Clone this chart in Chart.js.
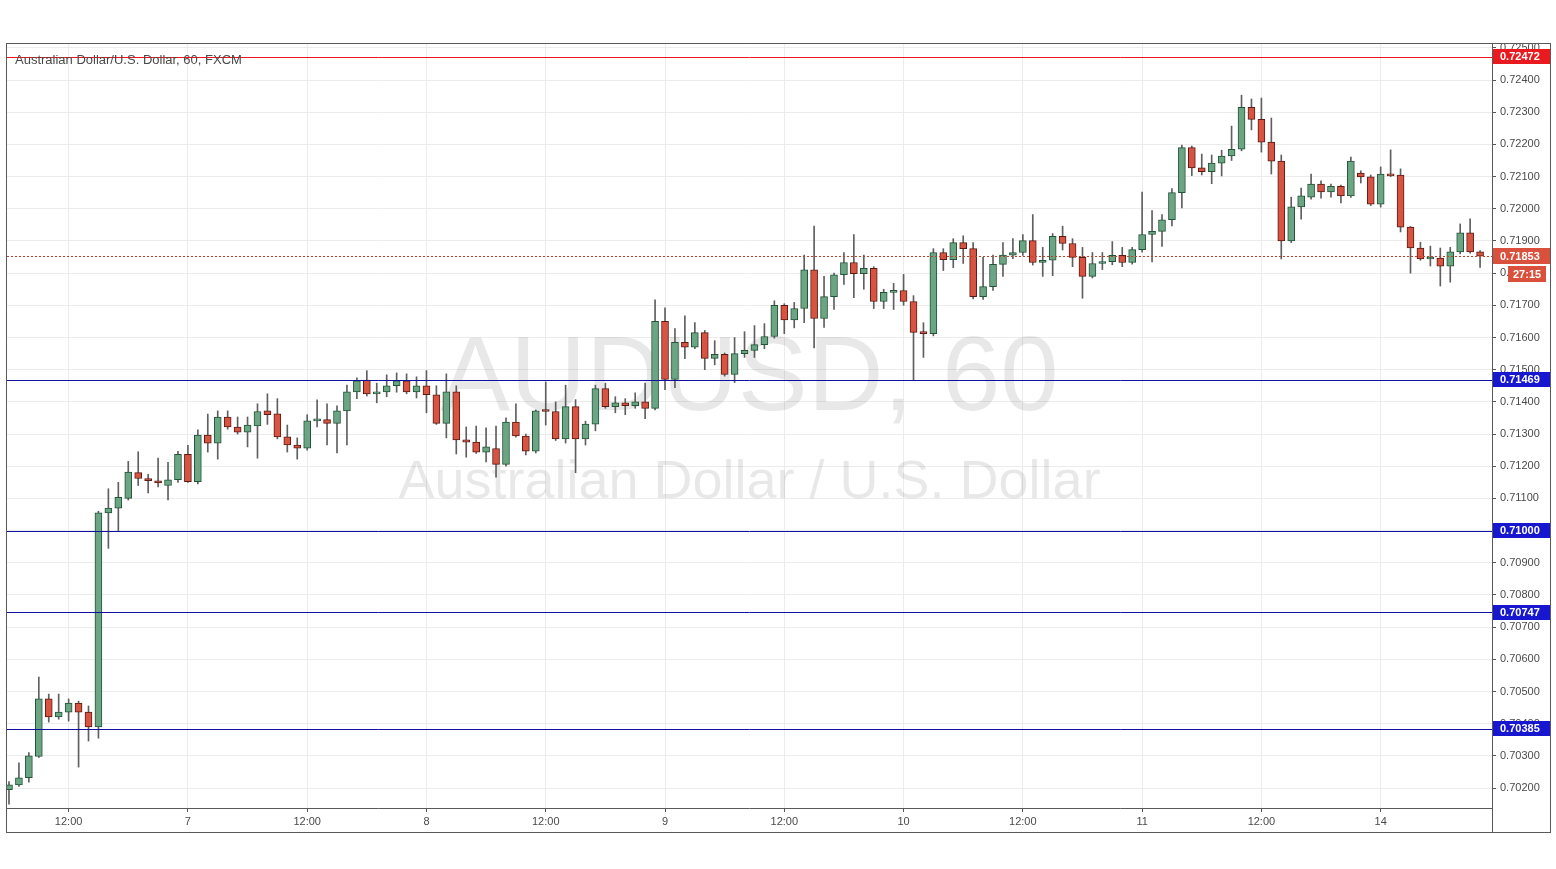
<!DOCTYPE html>
<html>
<head>
<meta charset="utf-8">
<script src="https://cdn.jsdelivr.net/npm/chart.js@4.4.0/dist/chart.umd.min.js"></script>
<style>
  html, body { margin: 0; padding: 0; background: #fff; }
  canvas { display: block; }
</style>
</head>
<body>
<canvas id="chart" width="1556" height="869"></canvas>
<script>
/* AUDUSD 60 — candles */

// trading sessions: [day, firstHour, lastHour]
const sessions = [[6, 6, 23], [7, 0, 23], [8, 0, 23], [9, 0, 23], [10, 0, 23], [11, 0, 20], [13, 21, 23], [14, 0, 10]];

const opens = [
  .70195, .70210, .70232, .70298, .70477, .70421, .70436, .70464, .70436, .70390, .71055, .71070,
  .71100, .71180, .71162, .71155, .71140, .71158, .71237, .71152, .71297, .71272, .71353, .71322,
  .71306, .71325, .71372, .71363, .71291, .71266, .71256, .71341, .71345, .71333, .71372, .71431,
  .71468, .71425, .71431, .71450, .71465, .71431, .71450, .71422, .71333, .71431, .71282, .71275,
  .71244, .71255, .71206, .71337, .71294, .71247, .71375, .71370, .71285, .71385, .71285, .71331,
  .71441, .71385, .71397, .71388, .71400, .71380, .71650, .71470, .71585, .71570, .71615, .71535,
  .71548, .71485, .71550, .71560, .71578, .71603, .71700, .71655, .71690, .71810, .71659, .71727,
  .71795, .71833, .71798, .71815, .71712, .71740, .71746, .71712, .71616, .71612, .71864, .71842,
  .71895, .71876, .71727, .71758, .71827, .71856, .71864, .71901, .71833, .71840, .71914, .71892,
  .71849, .71790, .71830, .71836, .71855, .71833, .71873, .71920, .71930, .71966, .72050, .72190,
  .72127, .72115, .72142, .72164, .72185, .72315, .72278, .72207, .72148, .71900, .72006, .72036,
  .72077, .72052, .72070, .72040, .72111, .72099, .72014, .72108, .72105, .71943, .71878, .71844,
  .71847, .71822, .71866, .71925, .71866
];
const highs = [
  .70220, .70278, .70310, .70545, .70492, .70492, .70477, .70470, .70455, .71060, .71130, .71150,
  .71215, .71245, .71175, .71225, .71212, .71246, .71265, .71313, .71362, .71372, .71372, .71353,
  .71353, .71394, .71425, .71410, .71328, .71288, .71360, .71406, .71394, .71388, .71452, .71475,
  .71497, .71458, .71484, .71490, .71487, .71478, .71497, .71450, .71487, .71450, .71322, .71325,
  .71319, .71325, .71350, .71394, .71300, .71375, .71462, .71400, .71452, .71407, .71340, .71452,
  .71458, .71416, .71410, .71428, .71458, .71717, .71692, .71628, .71667, .71646, .71622, .71590,
  .71552, .71600, .71618, .71637, .71643, .71714, .71705, .71709, .71856, .71946, .71790, .71800,
  .71864, .71920, .71856, .71820, .71750, .71768, .71796, .71730, .71646, .71876, .71876, .71907,
  .71916, .71895, .71849, .71856, .71895, .71907, .71920, .71982, .71880, .71923, .71946, .71907,
  .71880, .71864, .71864, .71898, .71880, .71880, .72052, .71994, .71982, .72063, .72198, .72195,
  .72170, .72167, .72182, .72257, .72353, .72341, .72344, .72282, .72167, .72036, .72064, .72108,
  .72087, .72077, .72074, .72161, .72118, .72105, .72130, .72183, .72124, .71945, .71896, .71884,
  .71878, .71880, .71953, .71969, .71870
];
const lows = [
  .70150, .70205, .70218, .70295, .70405, .70414, .70408, .70265, .70346, .70355, .70945, .71000,
  .71095, .71140, .71117, .71136, .71095, .71150, .71150, .71145, .71244, .71222, .71315, .71300,
  .71260, .71225, .71330, .71285, .71244, .71222, .71250, .71322, .71266, .71241, .71266, .71410,
  .71418, .71397, .71416, .71430, .71425, .71412, .71366, .71330, .71288, .71238, .71228, .71240,
  .71213, .71166, .71200, .71290, .71235, .71241, .71328, .71280, .71272, .71180, .71266, .71310,
  .71380, .71366, .71360, .71380, .71348, .71375, .71438, .71444, .71534, .71565, .71500, .71515,
  .71480, .71460, .71538, .71538, .71565, .71598, .71612, .71630, .71646, .71568, .71631, .71687,
  .71765, .71724, .71750, .71690, .71690, .71687, .71700, .71466, .71538, .71605, .71808, .71817,
  .71830, .71720, .71718, .71746, .71790, .71845, .71855, .71825, .71790, .71792, .71872, .71820,
  .71722, .71785, .71811, .71826, .71820, .71828, .71865, .71835, .71883, .71947, .72003, .72103,
  .72105, .72078, .72102, .72150, .72180, .72245, .72176, .72108, .71844, .71895, .71968, .72030,
  .72033, .72036, .72018, .72035, .72080, .72010, .72005, .72100, .71928, .71800, .71840, .71822,
  .71760, .71772, .71860, .71862, .71818
];
const closes = [
  .70210, .70232, .70300, .70477, .70421, .70436, .70464, .70436, .70390, .71055, .71070, .71103,
  .71182, .71162, .71155, .71148, .71158, .71237, .71152, .71297, .71272, .71353, .71322, .71306,
  .71328, .71370, .71360, .71291, .71266, .71256, .71341, .71345, .71333, .71372, .71431, .71465,
  .71425, .71431, .71450, .71465, .71431, .71450, .71422, .71333, .71431, .71282, .71275, .71244,
  .71260, .71206, .71337, .71294, .71247, .71372, .71370, .71285, .71385, .71285, .71331, .71441,
  .71385, .71397, .71388, .71400, .71380, .71650, .71470, .71585, .71570, .71615, .71535, .71548,
  .71485, .71550, .71560, .71578, .71603, .71700, .71655, .71690, .71810, .71659, .71727, .71795,
  .71833, .71798, .71815, .71712, .71740, .71746, .71712, .71616, .71612, .71864, .71842, .71895,
  .71876, .71727, .71758, .71827, .71856, .71864, .71901, .71833, .71840, .71914, .71892, .71849,
  .71790, .71830, .71836, .71855, .71833, .71873, .71920, .71930, .71966, .72050, .72190, .72127,
  .72115, .72142, .72164, .72185, .72315, .72278, .72207, .72148, .71900, .72006, .72040, .72077,
  .72052, .72070, .72040, .72148, .72099, .72014, .72108, .72102, .71943, .71878, .71844, .71847,
  .71822, .71866, .71925, .71866, .71853
];

// horizontal levels drawn on the chart
const levels = [0.72472, 0.71469, 0.71000, 0.70747, 0.70385];
const levelKinds = ["red", "blue", "blue", "blue", "blue"];
const lastPrice = 0.71853;
const countdown = "27:15";
const title = "Australian Dollar/U.S. Dollar, 60, FXCM";
const watermarkBig = "AUDUSD, 60";
const watermarkSmall = "Australian Dollar / U.S. Dollar";

const Y_MIN = 0.70138, Y_MAX = 0.72512;
const UP = "#6ba583", UP_EDGE = "#225437", DOWN = "#d75442", DOWN_EDGE = "#5b1a13", WICK = "#5f5f5f";
const FONT = "'Liberation Sans', Arial, sans-serif";

// build hour slots from the sessions
const times = [];
sessions.forEach(([d, a, b]) => { for (let h = a; h <= b; h++) times.push({ day: d, hour: h }); });
const tickIdx = times.map((t, i) => (t.hour === 0 || t.hour === 12) ? i : -1).filter(i => i >= 0);
const fmtTime = i => { const t = times[i]; return t ? (t.hour === 0 ? String(t.day) : "12:00") : ""; };

const idx = opens.map((_, i) => i);
const isUp = i => closes[i] >= opens[i];

const overlay = {
  id: "overlay",
  beforeDatasetsDraw(chart) {
    const { ctx, chartArea: a } = chart;
    const cx = (a.left + a.right) / 2;
    ctx.save();
    ctx.fillStyle = "rgba(0,0,0,0.09)";
    ctx.textAlign = "center";
    ctx.textBaseline = "middle";
    ctx.font = "105px " + FONT;
    ctx.fillText(watermarkBig, cx, 381);
    ctx.font = "54px " + FONT;
    ctx.fillText(watermarkSmall, cx, 483);
    ctx.restore();
  },
  afterDatasetsDraw(chart) {
    const { ctx, chartArea: a, scales: { y } } = chart;
    ctx.save();
    ctx.lineWidth = 1;
    levels.forEach((v, k) => {
      const py = Math.round(y.getPixelForValue(v)) + 0.5;
      ctx.strokeStyle = levelKinds[k] === "red" ? "#f0141c" : "#1010a0";
      ctx.beginPath(); ctx.moveTo(a.left, py); ctx.lineTo(a.right, py); ctx.stroke();
    });
    const lp = Math.round(y.getPixelForValue(lastPrice)) + 0.5;
    ctx.strokeStyle = "#c0402a";
    ctx.setLineDash([2, 2]);
    ctx.beginPath(); ctx.moveTo(a.left, lp); ctx.lineTo(a.right, lp); ctx.stroke();
    ctx.restore();
  },
  afterDraw(chart) {
    const { ctx, chartArea: a, scales: { y } } = chart;
    const right = a.right + 58;
    ctx.save();
    // frame
    ctx.strokeStyle = "#5a5a5a";
    ctx.lineWidth = 1;
    ctx.strokeRect(a.left - 0.5, a.top - 0.5, right - a.left + 1, 832 - a.top + 1);
    ctx.beginPath();
    ctx.moveTo(a.right + 0.5, a.top); ctx.lineTo(a.right + 0.5, 832);
    ctx.moveTo(a.left, a.bottom + 0.5); ctx.lineTo(a.right, a.bottom + 0.5);
    ctx.stroke();

    // price boxes on the axis
    const box = (v, text, bg, x0, h) => {
      const py = y.getPixelForValue(v);
      ctx.fillStyle = bg;
      ctx.fillRect(x0, Math.round(py - h / 2), right - x0, h);
      ctx.fillStyle = "#fff";
      ctx.font = "bold 11px " + FONT;
      ctx.textAlign = "left";
      ctx.textBaseline = "middle";
      ctx.fillText(text, x0 + 7, py + 0.5);
    };
    levels.forEach((v, k) => box(v, v.toFixed(5), levelKinds[k] === "red" ? "#e8191f" : "#1717cf", a.right + 1, 15));
    box(lastPrice, lastPrice.toFixed(5), "#d9513d", a.right + 1, 16);
    const cy = y.getPixelForValue(lastPrice) + 18;
    ctx.fillStyle = "#d9513d";
    ctx.fillRect(a.right + 16, Math.round(cy - 8), 38, 16);
    ctx.fillStyle = "#fff";
    ctx.font = "bold 11px " + FONT;
    ctx.textBaseline = "middle";
    ctx.fillText(countdown, a.right + 21, cy + 0.5);

    // symbol title
    ctx.fillStyle = "#4a4a4a";
    ctx.font = "13px " + FONT;
    ctx.textAlign = "left";
    ctx.fillText(title, a.left + 8, 60);
    ctx.restore();
  }
};

new Chart(document.getElementById("chart"), {
  type: "bar",
  data: {
    datasets: [
      {
        label: "wick",
        data: idx.map(i => ({ x: i, y: [lows[i], highs[i]] })),
        backgroundColor: WICK,
        barThickness: 1,
        grouped: false,
        order: 2
      },
      {
        label: "body",
        data: idx.map(i => ({ x: i, y: [opens[i], closes[i]] })),
        backgroundColor: idx.map(i => isUp(i) ? UP : DOWN),
        borderColor: idx.map(i => isUp(i) ? UP_EDGE : DOWN_EDGE),
        borderWidth: 1,
        borderSkipped: false,
        barThickness: 7,
        minBarLength: 2,
        grouped: false,
        order: 1
      }
    ]
  },
  options: {
    responsive: false,
    animation: false,
    devicePixelRatio: 1,
    layout: { padding: { left: 7, top: 44, right: 6, bottom: 37 } },
    plugins: { legend: { display: false }, tooltip: { enabled: false } },
    scales: {
      x: {
        type: "linear",
        min: -0.2,
        max: times.length + 0.2,
        offset: false,
        border: { display: false },
        grid: { offset: false, color: "#ececec", tickColor: "#555", tickLength: 4 },
        afterBuildTicks: axis => { axis.ticks = tickIdx.map(v => ({ value: v })); },
        afterFit: s => { s.height = 24; },
        ticks: {
          autoSkip: false,
          maxRotation: 0,
          padding: 3,
          color: "#4a4a4a",
          font: { size: 11, family: FONT },
          callback: v => fmtTime(v)
        }
      },
      y: {
        position: "right",
        min: Y_MIN,
        max: Y_MAX,
        border: { display: false },
        grid: { color: "#ececec", tickColor: "#555", tickLength: 4 },
        afterFit: s => { s.width = 58; },
        ticks: {
          stepSize: 0.001,
          includeBounds: false,
          padding: 4,
          color: "#4a4a4a",
          font: { size: 11, family: FONT },
          callback: v => v.toFixed(5)
        }
      }
    }
  },
  plugins: [overlay]
});
</script>
</body>
</html>
